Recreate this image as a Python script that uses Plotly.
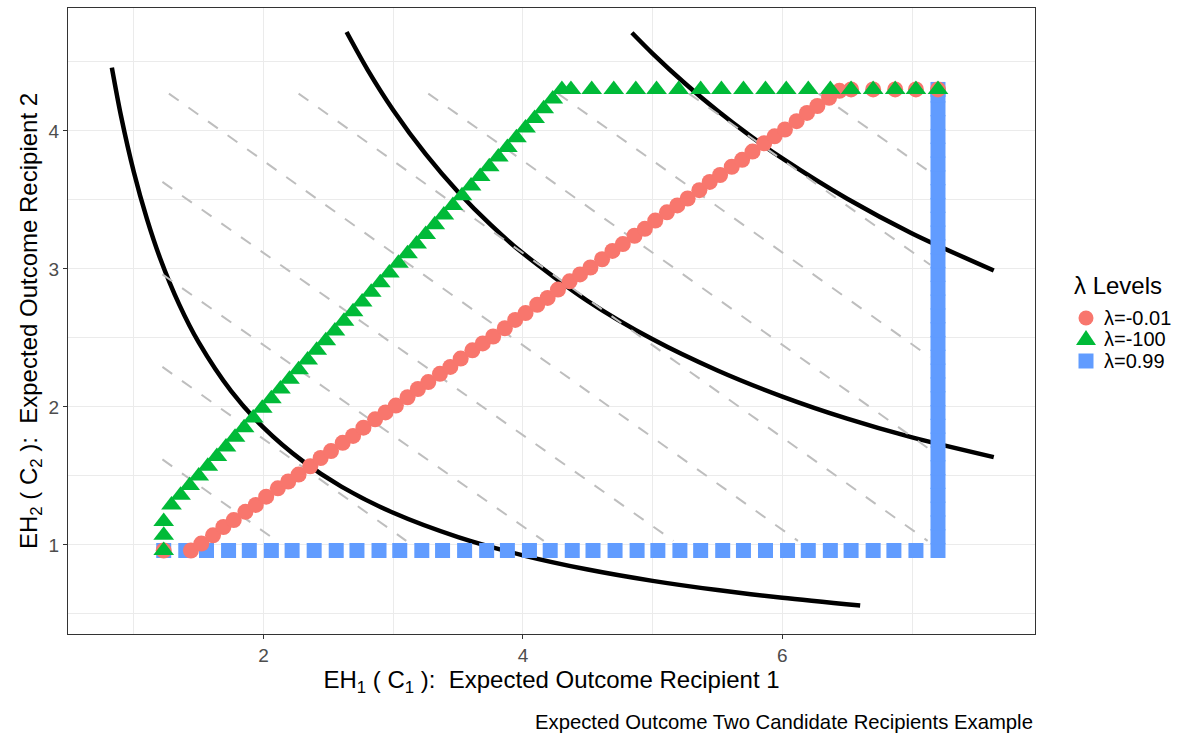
import plotly.graph_objects as go

# ---------------- data ----------------
# Indifference curves (black)
curve1_x = [0.83, 0.9, 1.0, 1.1, 1.2, 1.35, 1.5, 1.75, 2.0, 2.3, 2.6, 3.0, 3.5, 4.0, 4.5, 5.0, 5.5, 6.0, 6.6]
curve1_y = [4.458, 4.111, 3.700, 3.364, 3.083, 2.741, 2.467, 2.114, 1.850, 1.609, 1.423, 1.233, 1.057,
            0.925, 0.822, 0.740, 0.673, 0.617, 0.561]
curve2_x = [2.64, 2.8, 3.0, 3.25, 3.5, 3.75, 4.0, 4.5, 5.0, 5.5, 6.0, 6.5, 7.0, 7.63]
curve2_y = [4.716, 4.446, 4.150, 3.831, 3.557, 3.320, 3.113, 2.767, 2.490, 2.264, 2.075, 1.915, 1.779, 1.636]
curve3_x = [4.84, 5.0, 5.25, 5.5, 5.75, 6.0, 6.5, 7.0, 7.63]
curve3_y = [4.711, 4.560, 4.343, 4.145, 3.965, 3.800, 3.508, 3.257, 2.988]

# Dashed iso-lines (segment endpoints)
dash_x0 = [1.22, 1.22, 1.22, 1.22, 1.27, 2.27, 3.27, 4.27, 5.28, 6.28]
dash_y0 = [1.62, 2.29, 2.96, 3.63, 4.27, 4.27, 4.27, 4.27, 4.27, 4.27]
dash_x1 = [2.10, 3.10, 4.16, 5.16, 6.12, 7.12, 7.14, 7.14, 7.14, 7.14]
dash_y1 = [1.03, 1.03, 1.03, 1.03, 1.03, 1.03, 1.69, 2.36, 3.03, 3.70]

# lambda = 0.99 (blue squares)
blue_x = [1.23, 1.40, 1.56, 1.73, 1.89, 2.06, 2.22, 2.39, 2.56, 2.72, 2.89, 3.05, 3.22, 3.38, 3.55,
          3.72, 3.88, 4.05, 4.21, 4.38, 4.54, 4.71, 4.88, 5.04, 5.21, 5.37, 5.54, 5.70, 5.87, 6.04,
          6.20, 6.37, 6.53, 6.70, 6.86, 7.03, 7.20,
          7.20, 7.20, 7.20, 7.20, 7.20, 7.20, 7.20, 7.20, 7.20, 7.20, 7.20, 7.20, 7.20, 7.20, 7.20,
          7.20, 7.20, 7.20, 7.20, 7.20, 7.20, 7.20, 7.20, 7.20, 7.20, 7.20, 7.20, 7.20, 7.20, 7.20,
          7.20, 7.20, 7.20, 7.20]
blue_y = [0.96] * 37 + [1.06, 1.16, 1.26, 1.36, 1.46, 1.56, 1.66, 1.76, 1.86, 1.96, 2.06, 2.16, 2.26,
                        2.36, 2.46, 2.56, 2.66, 2.76, 2.86, 2.96, 3.06, 3.16, 3.26, 3.36, 3.46, 3.56,
                        3.66, 3.76, 3.86, 3.96, 4.06, 4.16, 4.26, 4.30]

# lambda = -0.01 (red circles)
red_x = [1.23,
         1.44, 1.52, 1.61, 1.69, 1.77, 1.86, 1.94, 2.02, 2.11, 2.19, 2.27, 2.36, 2.44, 2.52, 2.61,
         2.69, 2.77, 2.86, 2.94, 3.02, 3.11, 3.19, 3.27, 3.36, 3.44, 3.52, 3.61, 3.69, 3.77, 3.86,
         3.94, 4.02, 4.11, 4.19, 4.27, 4.36, 4.44, 4.52, 4.61, 4.69, 4.77, 4.86, 4.94, 5.02, 5.11,
         5.19, 5.27, 5.36, 5.44, 5.52, 5.61, 5.69, 5.77, 5.86, 5.94, 6.02, 6.11, 6.19, 6.27, 6.36,
         6.44,
         6.53, 6.70, 6.87, 7.03, 7.20]
red_y = [0.96,
         0.96, 1.01, 1.07, 1.13, 1.18, 1.24, 1.29, 1.35, 1.41, 1.46, 1.51, 1.57, 1.63, 1.68, 1.74,
         1.79, 1.85, 1.91, 1.96, 2.01, 2.07, 2.13, 2.18, 2.24, 2.29, 2.35, 2.41, 2.46, 2.51, 2.57,
         2.63, 2.68, 2.74, 2.79, 2.85, 2.91, 2.96, 3.01, 3.07, 3.13, 3.18, 3.24, 3.29, 3.35, 3.41,
         3.46, 3.51, 3.57, 3.63, 3.68, 3.74, 3.79, 3.85, 3.91, 3.96, 4.01, 4.07, 4.13, 4.18, 4.24,
         4.29,
         4.30, 4.30, 4.30, 4.30, 4.30]

# lambda = -100 (green triangles)
green_diag = [1.29, 1.36, 1.43, 1.50, 1.57, 1.64, 1.71, 1.78, 1.85, 1.92, 1.99, 2.06, 2.13, 2.20, 2.27,
              2.34, 2.41, 2.48, 2.55, 2.62, 2.69, 2.76, 2.83, 2.90, 2.97, 3.04, 3.11, 3.18, 3.25, 3.32,
              3.39, 3.46, 3.53, 3.60, 3.67, 3.74, 3.81, 3.88, 3.95, 4.02, 4.09, 4.16, 4.23, 4.30]
green_top_x = [4.37, 4.53, 4.70, 4.87, 5.03, 5.20, 5.37, 5.53, 5.70, 5.87, 6.03, 6.20, 6.37, 6.53,
               6.70, 6.87, 7.03, 7.20]
green_x = [1.23, 1.23, 1.23] + green_diag + green_top_x
green_y = [0.96, 1.07, 1.17] + green_diag + [4.30] * len(green_top_x)

series_names = ["λ=-0.01", "λ=-100", "λ=0.99"]
series_colors = ["#F8766D", "#00BA38", "#619CFF"]
legend_title = "λ Levels"

x_ticks = [2, 4, 6]
y_ticks = [1, 2, 3, 4]
x_minor = [1, 3, 5, 7]
y_minor = [0.5, 1.5, 2.5, 3.5, 4.5]

# ---------------- figure ----------------
fig = go.Figure()

for cx, cy in [(curve1_x, curve1_y), (curve2_x, curve2_y), (curve3_x, curve3_y)]:
    fig.add_trace(go.Scatter(x=cx, y=cy, mode="lines",
                             line=dict(color="black", width=4.5, shape="spline", smoothing=0.8),
                             showlegend=False, hoverinfo="skip"))

dx, dy = [], []
for a, b, c, d in zip(dash_x0, dash_y0, dash_x1, dash_y1):
    dx += [a, c, None]
    dy += [b, d, None]
fig.add_trace(go.Scatter(x=dx, y=dy, mode="lines",
                         line=dict(color="#BEBEBE", width=2, dash="12px,12px"),
                         showlegend=False, hoverinfo="skip"))

fig.add_trace(go.Scatter(x=blue_x, y=blue_y, mode="markers", name=series_names[2], showlegend=False,
                         marker=dict(symbol="square", size=15, color=series_colors[2], line=dict(width=0))))
fig.add_trace(go.Scatter(x=red_x, y=red_y, mode="markers", name=series_names[0], showlegend=False,
                         marker=dict(symbol="circle", size=16, color=series_colors[0], line=dict(width=0))))
fig.add_trace(go.Scatter(x=green_x, y=green_y, mode="markers", name=series_names[1], showlegend=False,
                         marker=dict(symbol="triangle-up", size=18, color=series_colors[1], line=dict(width=0))))

axis_common = dict(
    showline=True, mirror=True, linecolor="#333333", linewidth=1.2,
    ticks="outside", ticklen=4, tickcolor="#333333", tickwidth=1.2,
    tickfont=dict(size=19, color="#4D4D4D"),
    showgrid=True, gridcolor="#EBEBEB", gridwidth=1.4, zeroline=False,
)

# ---- manual legend (pixel placement converted to paper coords) ----
PL, PR, PT, PB = 68, 1035, 8, 634
def px_x(p):
    return (p - PL) / (PR - PL)
def px_y(p):
    return (PB - p) / (PB - PT)

legend_rows_y = [318, 339, 361]
sym_x = px_x(1086)
annotations = [dict(text=legend_title, xref="paper", yref="paper", x=px_x(1072), y=px_y(285),
                    xanchor="left", yanchor="middle", showarrow=False,
                    font=dict(size=24, color="black"))]
shapes = []
sym_paths = {
    0: None,
    1: "M -10,-6 L 10,-6 L 0,9 Z",
    2: "M -7.5,-7.5 L 7.5,-7.5 L 7.5,7.5 L -7.5,7.5 Z",
}
for i, (nm, col, ry) in enumerate(zip(series_names, series_colors, legend_rows_y)):
    annotations.append(dict(text=nm, xref="paper", yref="paper", x=px_x(1102), y=px_y(ry),
                            xanchor="left", yanchor="middle", showarrow=False,
                            font=dict(size=20, color="black")))
    if i == 0:
        shapes.append(dict(type="circle", xref="paper", yref="paper", xsizemode="pixel", ysizemode="pixel",
                           xanchor=sym_x, yanchor=px_y(ry), x0=-7.5, x1=7.5, y0=-7.5, y1=7.5,
                           fillcolor=col, line=dict(width=0)))
    else:
        shapes.append(dict(type="path", xref="paper", yref="paper", xsizemode="pixel", ysizemode="pixel",
                           xanchor=sym_x, yanchor=px_y(ry), path=sym_paths[i],
                           fillcolor=col, line=dict(width=0)))

annotations.append(dict(text="Expected Outcome Two Candidate Recipients Example",
                        xref="paper", yref="paper", x=1.0, y=px_y(722), xanchor="right", yanchor="middle",
                        showarrow=False, font=dict(size=20.3, color="black")))

fig.update_layout(
    width=1184, height=740,
    margin=dict(l=PL, r=1184 - PR, t=PT, b=740 - PB),
    paper_bgcolor="white", plot_bgcolor="white",
    font=dict(family="Liberation Sans, Arial, sans-serif", color="black"),
    showlegend=False,
    xaxis=dict(range=[0.492, 7.948], tickmode="array", tickvals=x_ticks,
               minor=dict(tickmode="array", tickvals=x_minor, showgrid=True, gridcolor="#EBEBEB",
                          gridwidth=0.7, ticks=""),
               title=dict(text="EH<sub>1</sub> ( C<sub>1</sub> ):\u00a0 Expected Outcome Recipient 1",
                          font=dict(size=24, color="black"), standoff=6),
               **axis_common),
    yaxis=dict(range=[0.355, 4.89], tickmode="array", tickvals=y_ticks,
               minor=dict(tickmode="array", tickvals=y_minor, showgrid=True, gridcolor="#EBEBEB",
                          gridwidth=0.7, ticks=""),
               title=dict(text="EH<sub>2</sub> ( C<sub>2</sub> ):\u00a0 Expected Outcome Recipient 2",
                          font=dict(size=24, color="black"), standoff=4),
               **axis_common),
    annotations=annotations,
    shapes=shapes,
)

fig.write_html("out.html")
